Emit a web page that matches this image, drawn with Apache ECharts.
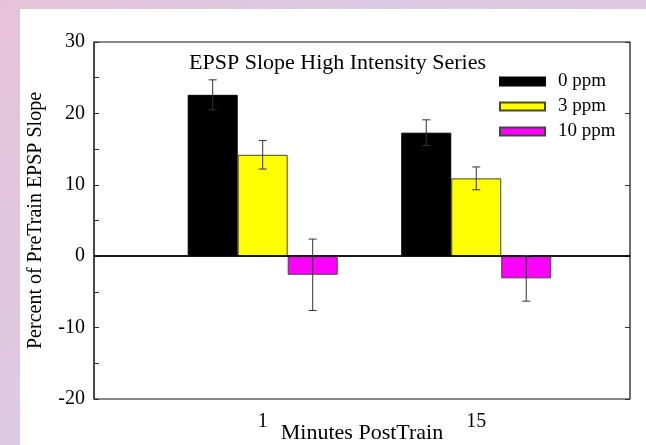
<!DOCTYPE html>
<html>
<head>
<meta charset="utf-8">
<script src="https://cdn.jsdelivr.net/npm/echarts@6/dist/echarts.min.js"></script>
<style>
  html, body { margin: 0; padding: 0; }
  #chart { width: 646px; height: 445px; }
</style>
</head>
<body>
<div id="chart"></div>
<script>
// Time points after training (x categories)
const categories = ['1', '15'];
const seriesNames = ['0 ppm', '3 ppm', '10 ppm'];

// Mean percent change of EPSP slope per dose
const mean0ppm = [22.6, 17.3];
const mean3ppm = [14.2, 10.9];
const mean10ppm = [-2.6, -3.1];

// Standard error per dose
const err0ppm = [2.1, 1.8];
const err3ppm = [2.0, 1.6];
const err10ppm = [5.0, 3.2];

const FONT = 'Liberation Serif';
const BAR_W = 50;
const colors = ['#000000', '#ffff00', '#ff00ff'];
const borders = ['#000000', '#4a4a20', '#444444'];
const means = [mean0ppm, mean3ppm, mean10ppm];
const errs = [err0ppm, err3ppm, err10ppm];

const chart = echarts.init(document.getElementById('chart'), null, { renderer: 'canvas' });

const barSeries = seriesNames.map((name, s) => ({
  name: name,
  type: 'bar',
  barWidth: BAR_W,
  barGap: '0%',
  itemStyle: { color: colors[s], borderColor: borders[s], borderWidth: 1 },
  data: means[s].map((v, i) => [i + 1, v]),
  markLine: s === 0 ? {
    silent: true,
    symbol: 'none',
    label: { show: false },
    lineStyle: { color: '#000', width: 1.5, type: 'solid' },
    data: [{ yAxis: 0 }]
  } : undefined,
  z: 2
}));

// Error bars centred on each bar of a group
const errorSeries = seriesNames.map((name, s) => ({
  type: 'custom',
  silent: true,
  z: 5,
  data: means[s].map((v, i) => [i + 1, v, errs[s][i]]),
  renderItem: function (params, api) {
    const x = api.value(0), m = api.value(1), e = api.value(2);
    const hi = api.coord([x, m + e]);
    const lo = api.coord([x, m - e]);
    const cx = hi[0] + (s - 1) * BAR_W;
    const cap = 4;
    const st = { stroke: '#333', lineWidth: 1 };
    return {
      type: 'group',
      children: [
        { type: 'line', shape: { x1: cx, y1: hi[1], x2: cx, y2: lo[1] }, style: st },
        { type: 'line', shape: { x1: cx - cap, y1: hi[1], x2: cx + cap, y2: hi[1] }, style: st },
        { type: 'line', shape: { x1: cx - cap, y1: lo[1], x2: cx + cap, y2: lo[1] }, style: st }
      ]
    };
  }
}));

chart.setOption({
  animation: false,
  backgroundColor: new echarts.graphic.LinearGradient(0, 0, 1, 1, [
    { offset: 0, color: '#e6c2d8' },
    { offset: 0.4, color: '#dccbe6' },
    { offset: 1, color: '#e4c6dc' }
  ]),
  graphic: [{
    type: 'rect',
    z: -10,
    shape: { x: 20, y: 9, width: 626, height: 436 },
    style: { fill: '#ffffff' }
  }],
  title: {
    text: 'EPSP Slope High Intensity Series',
    left: 189,
    top: 52,
    padding: 0,
    textStyle: { fontFamily: FONT, fontSize: 22, fontWeight: 'normal', color: '#000' }
  },
  legend: {
    orient: 'vertical',
    left: 499,
    top: 72,
    padding: 0,
    itemWidth: 45,
    itemHeight: 8,
    itemGap: 6,
    icon: 'rect',
    data: seriesNames,
    textStyle: { fontFamily: FONT, fontSize: 19, color: '#000', padding: [0, 0, 0, 8] }
  },
  grid: {
    left: 94, top: 42, width: 536, height: 357,
    outerBoundsMode: 'none',
    containLabel: false,
    show: true, borderColor: '#111', borderWidth: 1, backgroundColor: 'transparent'
  },
  xAxis: {
    type: 'value',
    min: 0.21,
    max: 2.72,
    name: 'Minutes PostTrain',
    nameLocation: 'middle',
    nameGap: 23,
    nameMoveOverlap: false,
    nameTextStyle: { fontFamily: FONT, fontSize: 22, color: '#000' },
    axisLine: { show: true, lineStyle: { color: '#333', width: 1.5 } },
    axisTick: { show: true, inside: true, length: 5, customValues: [1, 2], lineStyle: { color: '#333' } },
    axisLabel: {
      customValues: [1, 2],
      formatter: v => categories[Math.round(v) - 1],
      margin: 13,
      fontFamily: FONT, fontSize: 20, color: '#000'
    },
    splitLine: { show: false }
  },
  yAxis: [{
    type: 'value',
    min: -20,
    max: 30,
    interval: 10,
    name: 'Percent of PreTrain EPSP Slope',
    nameLocation: 'middle',
    nameGap: 48,
    nameMoveOverlap: false,
    nameTextStyle: { fontFamily: FONT, fontSize: 20, color: '#000' },
    axisLine: { show: true, lineStyle: { color: '#333', width: 1.5 } },
    axisTick: { show: true, inside: true, length: 5, lineStyle: { color: '#333' } },
    minorTick: { show: true, splitNumber: 2, length: 5, lineStyle: { color: '#333' } },
    axisLabel: { margin: 9, fontFamily: FONT, fontSize: 20, color: '#000' },
    splitLine: { show: false }
  }, {
    type: 'value',
    position: 'right',
    min: -20,
    max: 30,
    interval: 10,
    axisLine: { show: true, lineStyle: { color: '#666', width: 1.5 } },
    axisTick: { show: true, inside: true, length: 5, lineStyle: { color: '#333' } },
    axisLabel: { show: false },
    splitLine: { show: false }
  }],
  series: barSeries.concat(errorSeries)
});
</script>
</body>
</html>
